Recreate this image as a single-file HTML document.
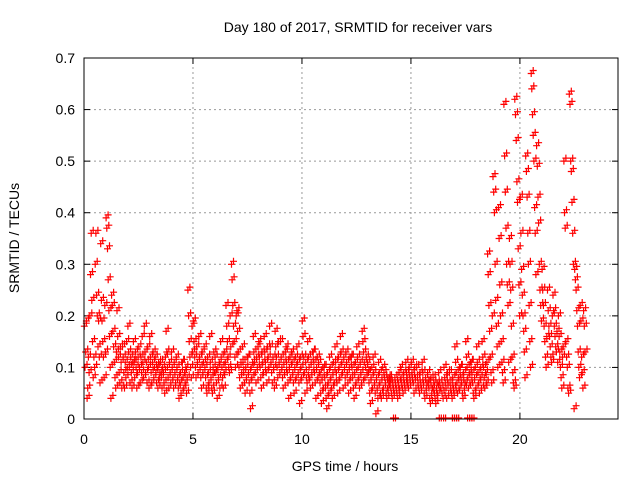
<!DOCTYPE html>
<html><head><meta charset="utf-8"><style>
body{margin:0;background:#fff}
svg{display:block;font-family:"Liberation Sans",sans-serif}
</style></head><body>
<svg id="c" width="640" height="480">
<text x="358" y="32" font-size="14" text-anchor="middle">Day 180 of 2017, SRMTID for receiver vars</text>
<text x="345" y="471" font-size="14" text-anchor="middle">GPS time / hours</text>
<text transform="translate(19,238) rotate(-90)" font-size="14" text-anchor="middle">SRMTID / TECUs</text>
<g id="grid"></g><g id="ticks"></g><g id="pts"></g>
<rect x="84" y="58" width="534" height="361" fill="none" stroke="#000" stroke-width="1"/>
</svg>
<script>
const binStarts=[0,0.25,0.5,0.75,1,1.25,1.5,1.75,2,2.25,2.5,2.75,3,3.25,3.5,3.75,4,4.25,4.5,4.75,5,5.25,5.5,5.75,6,6.25,6.5,6.75,7,7.25,7.5,7.75,8,8.25,8.5,8.75,9,9.25,9.5,9.75,10,10.25,10.5,10.75,11,11.25,11.5,11.75,12,12.25,12.5,12.75,13,13.25,13.5,13.75,14,14.25,14.5,14.75,15,15.25,15.5,15.75,16,16.25,16.5,16.75,17,17.25,17.5,17.75,18,18.25,18.5,18.75,19,19.25,19.5,19.75,20,20.25,20.5,20.75,21,21.25,21.5,21.75,22,22.25,22.5,22.75];
const binValues=[
[18,10,13,19,4,6,12,9],[20,28,36,23,15,8,12,10],[30,36,24,20,14,19,12,7],[34,23,19,15,12,8,22,13],
[39,37,33,27,21,16,10,4],[24,22,17,14,11,8,6,13],[21,16,12,9,7,14,11,6],[14,12,9,6,11,8,15,10],
[18,13,10,7,12,9,6,11],[15,11,8,13,10,6,9,12],[14,10,7,12,9,16,11,8],[18,13,9,11,7,14,10,6],
[16,12,9,7,11,13,8,10],[12,9,7,10,6,11,8,9],[11,8,6,10,9,7,5,12],[17,13,10,8,6,11,9,7],
[13,10,8,6,11,9,7,12],[10,8,6,4,7,9,5,11],[11,8,6,9,7,10,5,8],[25,20,15,12,10,8,18,13],
[19,15,12,10,8,14,11,9],[16,12,10,8,6,13,9,11],[14,10,8,6,5,12,9,7],[16,11,8,6,5,10,13,9],
[12,9,7,4,10,8,11,6],[15,12,10,8,6,9,13,11],[22,18,15,12,10,9,20,14],[30,27,22,18,15,12,10,20],
[21,17,13,10,8,6,11,9],[14,11,9,7,5,10,8,12],[12,9,7,5,2,10,8,11],[16,13,11,9,7,12,10,14],
[15,12,10,8,6,13,11,9],[16,13,11,9,7,14,12,10],[18,14,11,9,7,12,10,6],[17,14,12,10,8,15,11,9],
[15,12,10,8,6,11,9,13],[14,11,9,7,4,10,12,8],[13,11,9,7,5,10,12,8],[14,11,9,7,3,12,10,8],
[19,16,12,9,5,11,8,7],[15,12,10,8,6,11,9,13],[13,11,9,7,4,10,12,8],[11,9,7,5,3,8,10,6],
[10,8,6,4,2,9,7,5],[12,10,8,6,4,9,11,7],[14,11,9,7,5,12,10,8],[16,13,11,9,6,12,10,8],
[13,11,9,7,5,10,12,8],[12,10,8,6,4,9,11,7],[14,12,10,8,6,11,9,7],[17,15,13,11,8,10,12,9],
[11,9,7,5,3,8,10,6],[12,9,7,5,1,8,6,4],[11,9,7,5,4,8,10,6],[9,8,7,5,4,6,8,7],
[8,7,6,5,4,7,6,5],[8,7,6,5,4,7,9,6],[10,8,7,6,5,9,7,6],[11,9,8,7,6,10,8,7],
[11,9,8,7,5,10,8,6],[10,8,7,6,5,9,7,6],[11,9,7,5,4,8,6,7],[9,7,6,4,3,8,5,6],
[8,7,5,4,3,6,7,5],[9,7,6,5,4],[10,8,7,6,4,9,7,5],[9,7,6,5,4,8,6,5],
[14,11,9,7,5,8,6,10],[10,8,7,5,4,9,6,7],[15,12,10,8,6,9,7,11],[11,9,7,5,4,8,10,6],
[14,11,9,7,5,8,10,6],[15,12,10,8,6,9,7,11],[32,28,22,17,12,9,7,20],[47,44,40,30,23,18,14,10],
[41,35,26,20,15,11,9,7],[61,51,44,37,30,26,22,11],[35,30,25,18,12,9,7,6],[62,59,54,46,42,33,26,20],
[43,36,29,24,20,17,13,8],[51,48,43,36,30,22,15,10],[67,64,59,55,50,41,36,28],[53,49,43,38,30,25,22,19],
[29,25,22,18,15,12,10,16],[25,21,18,16,14,12,11,20],[24,21,18,16,14,13,17,11],[20,16,13,10,8,6,12,14],
[50,40,37,15,12,10,6,5],[63,61,50,48,42,36,30,2],[29,27,25,21,18,13,10,8],[22,19,12,9,6,21,18,13]];
const zeroTimes=[14.2,16.3,16.5,16.9,17.0,17.1,17.6,17.7,17.8];
const xTicks=[0,5,10,15,20];
const yTicks=[0,0.1,0.2,0.3,0.4,0.5,0.6,0.7];
const NS='http://www.w3.org/2000/svg';
const X0=84,X1=618,XMAX=24.5,Y0=419,Y1=58,YMAX=0.7;
function sx(t){return X0+t/XMAX*(X1-X0);}
function sy(v){return Y0-v/YMAX*(Y0-Y1);}
function mk(tag,at,parent){const e=document.createElementNS(NS,tag);for(const k in at)e.setAttribute(k,at[k]);parent.appendChild(e);return e;}
const grid=document.getElementById('grid'),ticks=document.getElementById('ticks'),pts=document.getElementById('pts');
yTicks.forEach(v=>{
  const y=sy(v);
  if(v>0&&v<YMAX){const l=mk('line',{x1:X0,x2:X1,y1:y,y2:y,stroke:'#999','stroke-dasharray':'2,3'},grid);
  
  }
  mk('line',{x1:X0,x2:X0+6,y1:y,y2:y,stroke:'#000'},ticks);
  mk('line',{x1:X1,x2:X1-6,y1:y,y2:y,stroke:'#000'},ticks);
  const t=mk('text',{x:X0-9,y:y+5,'font-size':14,'text-anchor':'end'},ticks);
  t.textContent=v===0?'0':v.toFixed(1);
  
  
});
xTicks.forEach(v=>{
  const x=sx(v);
  if(v>0){const l=mk('line',{x1:x,x2:x,y1:Y0,y2:Y1,stroke:'#999','stroke-dasharray':'2,3'},grid);
  
  }
  mk('line',{x1:x,x2:x,y1:Y0,y2:Y0-6,stroke:'#000'},ticks);
  mk('line',{x1:x,x2:x,y1:Y1,y2:Y1+6,stroke:'#000'},ticks);
  const t=mk('text',{x:x,y:Y0+25,'font-size':14,'text-anchor':'middle'},ticks);
  t.textContent=v;
  
  
});
let d='';
function plus(x,y){d+=`M${(x-3.5).toFixed(1)} ${y.toFixed(1)}h7M${x.toFixed(1)} ${(y-3.5).toFixed(1)}v7`;}
binStarts.forEach((t0,b)=>{
  const vals=binValues[b],n=vals.length;
  vals.forEach((v,i)=>{
    const x=sx(t0+(i+0.5)/n*0.25),y=sy(v/100);
    plus(x,y);
    plus(x+2,y-3);
  });
});
zeroTimes.forEach(t=>{plus(sx(t),sy(0)-1);plus(sx(t)+2,sy(0)-1);});
const p=mk('path',{d:d,stroke:'#ff0000','stroke-width':1.2,fill:'none'},pts);


</script>
</body></html>
